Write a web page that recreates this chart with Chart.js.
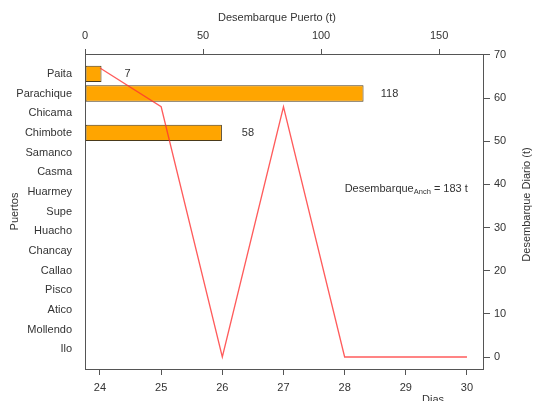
<!DOCTYPE html>
<html><head><meta charset="utf-8">
<script src="https://cdn.jsdelivr.net/npm/chart.js@4"></script>
<style>html,body{margin:0;padding:0;background:#fff;} canvas{display:block;}</style>
</head><body>
<canvas id="c" width="534" height="401" style="width:534px;height:401px"></canvas>
<script>
const puertos = ['Paita','Parachique','Chicama','Chimbote','Samanco','Casma','Huarmey','Supe','Huacho','Chancay','Callao','Pisco','Atico','Mollendo','Ilo'];
const desembarquePuerto = [7,118,0,58,0,0,0,0,0,0,0,0,0,0,0];
const dias = [24,25,26,27,28,29,30];
const desembarqueDiario = [67,58,0,58,0,0,0];
const ticksPuerto = [0,50,100,150];
const ticksDiario = [0,10,20,30,40,50,60,70];
const totalAnch = desembarquePuerto.reduce((a,b)=>a+b,0);

const FONT = "'Liberation Sans', Arial, sans-serif";
const TXT = '#333';
const AX = '#555';
Chart.defaults.font.family = FONT;
Chart.defaults.font.size = 11;
Chart.defaults.color = TXT;

const extras = {
  id: 'extras',
  afterDatasetsDraw(chart) {
    const ctx = chart.ctx;
    const xT = chart.scales.xTop, yL = chart.scales.yLeft;
    const xB = chart.scales.xBottom, yR = chart.scales.yRight;
    const ca = chart.chartArea;
    ctx.save();
    ctx.fillStyle = TXT;
    ctx.font = '11px ' + FONT;
    ctx.textAlign = 'center';
    ctx.textBaseline = 'middle';
    desembarquePuerto.forEach((v, i) => {
      if (v > 0) ctx.fillText(String(v), xT.getPixelForValue(v + 11), yL.getPixelForValue(i));
    });
    // annotation
    ctx.textAlign = 'left';
    let x = xB.getPixelForValue(28), y = yR.getPixelForValue(39);
    ctx.fillText('Desembarque', x, y);
    x += ctx.measureText('Desembarque').width;
    ctx.font = '7.5px ' + FONT;
    ctx.fillText('Anch', x, y + 3);
    x += ctx.measureText('Anch').width;
    ctx.font = '11px ' + FONT;
    ctx.fillText(' = ' + totalAnch + ' t', x, y);
    // top title
    ctx.textAlign = 'center';
    ctx.fillText('Desembarque Puerto (t)', ca.left + 192, 18);
    // bottom title (partially cut)
    ctx.textBaseline = 'top';
    ctx.fillText('Dias', ca.left + 348, 394);
    // right title
    ctx.translate(527, (ca.top + ca.bottom) / 2 - 7);
    ctx.rotate(-Math.PI / 2);
    ctx.textBaseline = 'middle';
    ctx.fillText('Desembarque Diario (t)', 0, 0);
    ctx.restore();
  }
};

new Chart(document.getElementById('c'), {
  type: 'bar',
  data: {
    datasets: [
      {
        type: 'bar',
        order: 1,
        indexAxis: 'y',
        xAxisID: 'xTop',
        yAxisID: 'yLeft',
        data: desembarquePuerto.map((v, i) => ({ x: v, y: i })),
        backgroundColor: '#FFA500',
        borderColor: '#4a3a1a',
        borderWidth: 1,
        borderSkipped: false,
        grouped: false,
        categoryPercentage: 1,
        barPercentage: 0.833
      },
      {
        type: 'line',
        order: 0,
        xAxisID: 'xBottom',
        yAxisID: 'yRight',
        data: dias.map((d, i) => ({ x: d, y: desembarqueDiario[i] })),
        borderColor: 'rgba(255,50,50,0.8)',
        borderWidth: 1.3,
        pointRadius: 0,
        tension: 0,
        fill: false
      }
    ]
  },
  options: {
    responsive: false,
    animation: false,
    devicePixelRatio: 1,
    layout: { padding: 0 },
    plugins: { legend: { display: false }, tooltip: { enabled: false } },
    scales: {
      xTop: {
        type: 'linear', position: 'top', axis: 'x', offset: false,
        min: 0, max: 168.6,
        afterBuildTicks: s => { s.ticks = ticksPuerto.map(v => ({ value: v })); },
        afterFit: s => { s.height = 54; },
        ticks: { padding: 6, maxRotation: 0, color: TXT },
        grid: { offset: false, drawOnChartArea: false, drawTicks: true, tickLength: 5, color: AX },
        border: { display: true, color: AX, width: 1 }
      },
      xBottom: {
        type: 'linear', position: 'bottom', axis: 'x', offset: false,
        min: 23.755, max: 30.262,
        afterBuildTicks: s => { s.ticks = dias.map(v => ({ value: v })); },
        afterFit: s => { s.height = 32; },
        ticks: { padding: 6, maxRotation: 0, color: TXT },
        grid: { offset: false, drawOnChartArea: false, drawTicks: true, tickLength: 6, color: AX },
        border: { display: true, color: AX, width: 1 }
      },
      yLeft: {
        type: 'linear', position: 'left', axis: 'y', reverse: true, offset: false,
        min: -1.01, max: 15.01,
        afterBuildTicks: s => { s.ticks = puertos.map((_, i) => ({ value: i })); },
        afterFit: s => { s.width = 85; },
        ticks: { padding: 13, color: TXT, callback: v => puertos[v] },
        grid: { offset: false, drawOnChartArea: false, drawTicks: false, color: AX },
        border: { display: true, color: AX, width: 1 },
        title: { display: true, text: 'Puertos', color: TXT, font: { size: 11 }, padding: { top: 8, bottom: 0 } }
      },
      yRight: {
        type: 'linear', position: 'right', axis: 'y', offset: false,
        min: -2.78, max: 70.23,
        afterBuildTicks: s => { s.ticks = ticksDiario.map(v => ({ value: v })); },
        afterFit: s => { s.width = 51; },
        ticks: { padding: 4, color: TXT },
        grid: { offset: false, drawOnChartArea: false, drawTicks: true, tickLength: 7, color: AX },
        border: { display: true, color: AX, width: 1 }
      }
    }
  },
  plugins: [extras]
});
</script>
</body></html>
